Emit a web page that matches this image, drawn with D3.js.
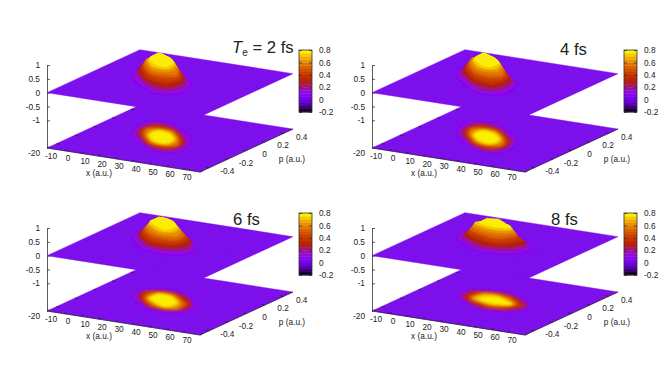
<!DOCTYPE html>
<html>
<head>
<meta charset="utf-8">
<style>
  html, body { margin: 0; padding: 0; background: #fff; }
  svg { display: block; }
  text { font-family: "Liberation Sans", sans-serif; fill: #222; }
  .axis text { font-family: "Liberation Sans", sans-serif; font-size: 8.3px; fill: #222; }
  .axis path, .axis line { stroke: #333; stroke-width: 0.8; }
</style>
<script src="https://cdn.jsdelivr.net/npm/d3@7"></script>
</head>
<body>
<svg id="chart" width="664" height="367">
  <defs>
    <filter id="softFloor" x="-20%" y="-20%" width="140%" height="140%"><feGaussianBlur stdDeviation="1"/></filter>
    <filter id="softHump" x="-20%" y="-20%" width="140%" height="140%"><feGaussianBlur stdDeviation="0.5"/></filter>
  </defs>
</svg>
<script>
var xGrid = [-8, -1, 6, 13, 20, 27, 34, 41, 48, 55];
var pGrid = [-0.3, -0.2, -0.1, 0, 0.1, 0.2, 0.3];

var values2fs = [
  [0, 0, 0, 0, 0, 0, 0, 0, 0, 0],
  [0, 0, 0, 0, 0.04, 0.26, 0.34, 0.12, 0, 0],
  [0, 0, 0, 0.17, 0.72, 0.85, 0.58, 0.07, 0, 0],
  [0, 0, 0.22, 0.83, 1.03, 0.83, 0.22, 0, 0, 0],
  [0, 0.07, 0.58, 0.85, 0.72, 0.17, 0, 0, 0, 0],
  [0, 0.12, 0.34, 0.26, 0.04, 0, 0, 0, 0, 0],
  [0, 0.01, 0.01, 0, 0, 0, 0, 0, 0, 0]
];
var values4fs = [
  [0, 0, 0, 0, 0, 0, 0, 0, 0, 0],
  [0, 0, 0, 0, 0.03, 0.25, 0.36, 0.14, 0.01, 0],
  [0, 0, 0, 0.15, 0.70, 0.86, 0.61, 0.09, 0, 0],
  [0, 0, 0.24, 0.83, 1.03, 0.84, 0.26, 0.01, 0, 0],
  [0, 0.09, 0.60, 0.85, 0.70, 0.16, 0, 0, 0, 0],
  [0.01, 0.14, 0.35, 0.25, 0.03, 0, 0, 0, 0, 0],
  [0, 0.01, 0.01, 0, 0, 0, 0, 0, 0, 0]
];
var values6fs = [
  [0, 0, 0, 0, 0, 0, 0, 0, 0, 0],
  [0, 0, 0, 0, 0, 0.05, 0.10, 0.05, 0, 0],
  [0, 0, 0, 0.14, 0.58, 0.82, 0.66, 0.20, 0, 0],
  [0, 0, 0.20, 0.80, 1.03, 0.94, 0.50, 0.05, 0, 0],
  [0, 0.05, 0.44, 0.80, 0.76, 0.34, 0.03, 0, 0, 0],
  [0, 0.03, 0.08, 0.10, 0.03, 0, 0, 0, 0, 0],
  [0, 0, 0, 0, 0, 0, 0, 0, 0, 0]
];
var values8fs = [
  [0, 0, 0, 0, 0, 0, 0, 0, 0, 0],
  [0, 0, 0, 0, 0, 0, 0, 0, 0, 0],
  [0, 0, 0, 0.08, 0.30, 0.50, 0.46, 0.22, 0.05, 0],
  [0, 0.01, 0.22, 0.76, 0.98, 1.03, 0.84, 0.38, 0.05, 0],
  [0, 0.05, 0.34, 0.68, 0.76, 0.56, 0.20, 0.03, 0, 0],
  [0, 0, 0.01, 0.03, 0.03, 0.01, 0, 0, 0, 0],
  [0, 0, 0, 0, 0, 0, 0, 0, 0, 0]
];

var panelValues = [values2fs, values4fs, values6fs, values8fs];
var panelTitles = ["2 fs", "4 fs", "6 fs", "8 fs"];

var xTicks = [-20, -10, 0, 10, 20, 30, 40, 50, 60, 70];
var pTicks = [-0.4, -0.2, 0, 0.2, 0.4];
var zTicks = [-1, -0.5, 0, 0.5, 1];
var cbTicks = [-0.2, 0, 0.2, 0.4, 0.6, 0.8];

var paletteStops = [-0.2, -0.1, 0, 0.1, 0.2, 0.3, 0.4, 0.5, 0.6, 0.7, 0.8];
var paletteColors = ["#000000", "#500196", "#7202f2", "#8c07f2", "#a11096", "#b42000",
                     "#c63700", "#d55700", "#e48300", "#f2ba00", "#ffff00"];

var svg = d3.select("#chart");

// where each panel sits, and where its label goes
var panelOffsets = [[0, 0], [325, 0], [0, 163], [325, 163]];
var titleAt = [[232, 53], [560, 55], [233, 225], [551, 225]];

// the oblique view: each data axis is a scale onto a screen direction
var xToScreenX = d3.scaleLinear().domain([-20, 70]).range([0, 153]);
var xToScreenY = d3.scaleLinear().domain([-20, 70]).range([0, 24]);
var pToScreenX = d3.scaleLinear().domain([-0.5, 0.5]).range([0, 93]);
var pToScreenY = d3.scaleLinear().domain([-0.5, 0.5]).range([0, -43]);
var zScale = d3.scaleLinear().domain([-2, 1]).range([148, 65]);
var basePlane = -2;

var gridX = d3.scaleLinear().domain([0.5, xGrid.length - 0.5]).range([xGrid[0], xGrid[xGrid.length - 1]]);
var gridP = d3.scaleLinear().domain([0.5, pGrid.length - 0.5]).range([pGrid[0], pGrid[pGrid.length - 1]]);

var palette = d3.scaleLinear().domain(paletteStops).range(paletteColors).clamp(true);
var bandColor = d3.scaleQuantize().domain([-0.2, 0.8])
  .range(d3.range(20).map(function(i) { return palette(-0.2 + (i + 0.5) * 0.05); }));

var levels = d3.range(0.08, 1.02, 0.03);
var ringLine = d3.line().curve(d3.curveBasisClosed);
var plainLabel = function(d) { return String(d); };

function project(x, p, z) {
    return [47 + xToScreenX(x) + pToScreenX(p),
            zScale(z) + xToScreenY(x) + pToScreenY(p)];
}

/**
 * Flat x-p square at height z, with the faint mesh of the surface on it
 */
function drawPlane(g, z) {
    var corners = [[-20, -0.5], [70, -0.5], [70, 0.5], [-20, 0.5]].map(function(c) {
        return project(c[0], c[1], z);
    });
    g.append("polygon")
     .attr("points", corners.join(" "))
     .attr("fill", "#7a0ceb")
     .attr("stroke", "#7a0ceb")
     .attr("stroke-width", 0.4);

    var mesh = d3.path();
    d3.range(-20, 70, 2).forEach(function(x) {
        var a = project(x, -0.5, z), b = project(x, 0.5, z);
        mesh.moveTo(a[0], a[1]);
        mesh.lineTo(b[0], b[1]);
    });
    d3.range(-0.5, 0.5, 0.04).forEach(function(p) {
        var a = project(-20, p, z), b = project(70, p, z);
        mesh.moveTo(a[0], a[1]);
        mesh.lineTo(b[0], b[1]);
    });
    g.append("path")
     .attr("d", mesh.toString())
     .attr("fill", "none")
     .attr("stroke", "#9a3cf5")
     .attr("stroke-opacity", 0.22)
     .attr("stroke-width", 0.5);
}

/**
 * Contour bands of one panel; lifted=true stacks every band at its own height
 */
function drawBands(g, rows, z, lifted) {
    var contours = d3.contours()
        .size([xGrid.length, pGrid.length])
        .thresholds(levels)(d3.merge(rows));

    var layer = g.append("g")
        .attr("filter", lifted ? "url(#softHump)" : "url(#softFloor)");

    contours.forEach(function(band) {
        var d = "";
        band.coordinates.forEach(function(polygon) {
            polygon.forEach(function(ring) {
                var pts = ring.slice(0, -1).map(function(c) {
                    return project(gridX(c[0]), gridP(c[1]), lifted ? z + band.value : z);
                });
                d += ringLine(pts);
            });
        });
        if (d) {
            layer.append("path")
             .attr("d", d)
             .attr("fill", bandColor(Math.min(band.value, 0.799)))
             .attr("fill-rule", "evenodd");
        }
    });
}

function drawTick(g, a, b) {
    g.append("line")
     .attr("x1", a[0]).attr("y1", a[1])
     .attr("x2", b[0]).attr("y2", b[1])
     .attr("stroke", "#222")
     .attr("stroke-width", 0.7);
}

function drawFloorFrame(g) {
    var edge = [[-20, -0.5], [70, -0.5], [70, 0.5]].map(function(c) {
        return project(c[0], c[1], basePlane);
    });
    g.append("polyline")
     .attr("points", edge.join(" "))
     .attr("fill", "none")
     .attr("stroke", "#222")
     .attr("stroke-width", 0.7);

    xTicks.forEach(function(x) {
        drawTick(g, project(x, -0.5, basePlane), project(x, -0.47, basePlane));
        var pos = project(x, -0.5, basePlane);
        g.append("text")
         .attr("x", pos[0] - 13)
         .attr("y", pos[1] + 8)
         .attr("text-anchor", "middle")
         .attr("font-size", 8.3)
         .text(x);
    });
    pTicks.forEach(function(p) {
        drawTick(g, project(70, p, basePlane), project(68, p, basePlane));
        drawTick(g, project(-20, p, basePlane), project(-18, p, basePlane));
        var pos = project(70, p, basePlane);
        g.append("text")
         .attr("x", pos[0] + 18)
         .attr("y", pos[1] + 6.5)
         .attr("text-anchor", "middle")
         .attr("font-size", 8.3)
         .text(p);
    });
    g.append("text").attr("x", 99).attr("y", 176).attr("text-anchor", "middle")
     .attr("font-size", 8.3).text("x (a.u.)");
    g.append("text").attr("x", 292).attr("y", 162).attr("text-anchor", "middle")
     .attr("font-size", 8.3).text("p (a.u.)");
}

function drawColorbar(g) {
    var cbScale = d3.scaleLinear().domain([-0.2, 0.8]).range([112, 50]);
    var bar = g.append("g").attr("transform", "translate(299,0)");

    bandColor.range().forEach(function(color, i) {
        var v = -0.2 + i * 0.05;
        bar.append("rect")
           .attr("x", 0)
           .attr("width", 13)
           .attr("y", cbScale(v + 0.05))
           .attr("height", cbScale(v) - cbScale(v + 0.05) + 0.4)
           .attr("fill", color);
    });
    bar.append("rect")
       .attr("y", 50).attr("width", 13).attr("height", 62)
       .attr("fill", "none").attr("stroke", "#333").attr("stroke-width", 0.8);

    bar.append("g")
       .attr("class", "axis")
       .attr("transform", "translate(13,0)")
       .call(d3.axisRight(cbScale).tickValues(cbTicks).tickSizeInner(-3).tickSizeOuter(0)
               .tickPadding(7).tickFormat(plainLabel))
       .select(".domain").remove();
    bar.append("g")
       .attr("class", "axis")
       .call(d3.axisLeft(cbScale).tickValues(cbTicks).tickSizeInner(-3).tickSizeOuter(0).tickFormat(""))
       .select(".domain").remove();
}

function drawTitle(i) {
    var at = titleAt[i];
    var title = svg.append("text")
        .attr("x", at[0])
        .attr("y", at[1])
        .attr("font-size", 16.7)
        .attr("fill", "#111");
    if (i === 0) {
        title.append("tspan").attr("font-style", "italic").text("T");
        title.append("tspan").attr("font-size", 10).attr("dy", 3).text("e");
        title.append("tspan").attr("dy", -3).text(" = " + panelTitles[i]);
    } else {
        title.text(panelTitles[i]);
    }
}

panelValues.forEach(function(rows, i) {
    var g = svg.append("g")
        .attr("transform", "translate(" + panelOffsets[i][0] + "," + panelOffsets[i][1] + ")");

    g.append("g")
     .attr("class", "axis")
     .attr("transform", "translate(47,0)")
     .call(d3.axisLeft(zScale).tickValues(zTicks).tickSizeInner(-3).tickSizeOuter(0)
             .tickPadding(7).tickFormat(plainLabel));

    // floor map first, the raised surface paints over it
    drawPlane(g, basePlane);
    drawBands(g, rows, basePlane, false);
    drawFloorFrame(g);

    drawPlane(g, 0);
    drawBands(g, rows, 0, true);

    drawColorbar(g);
    drawTitle(i);
});
</script>
</body>
</html>
